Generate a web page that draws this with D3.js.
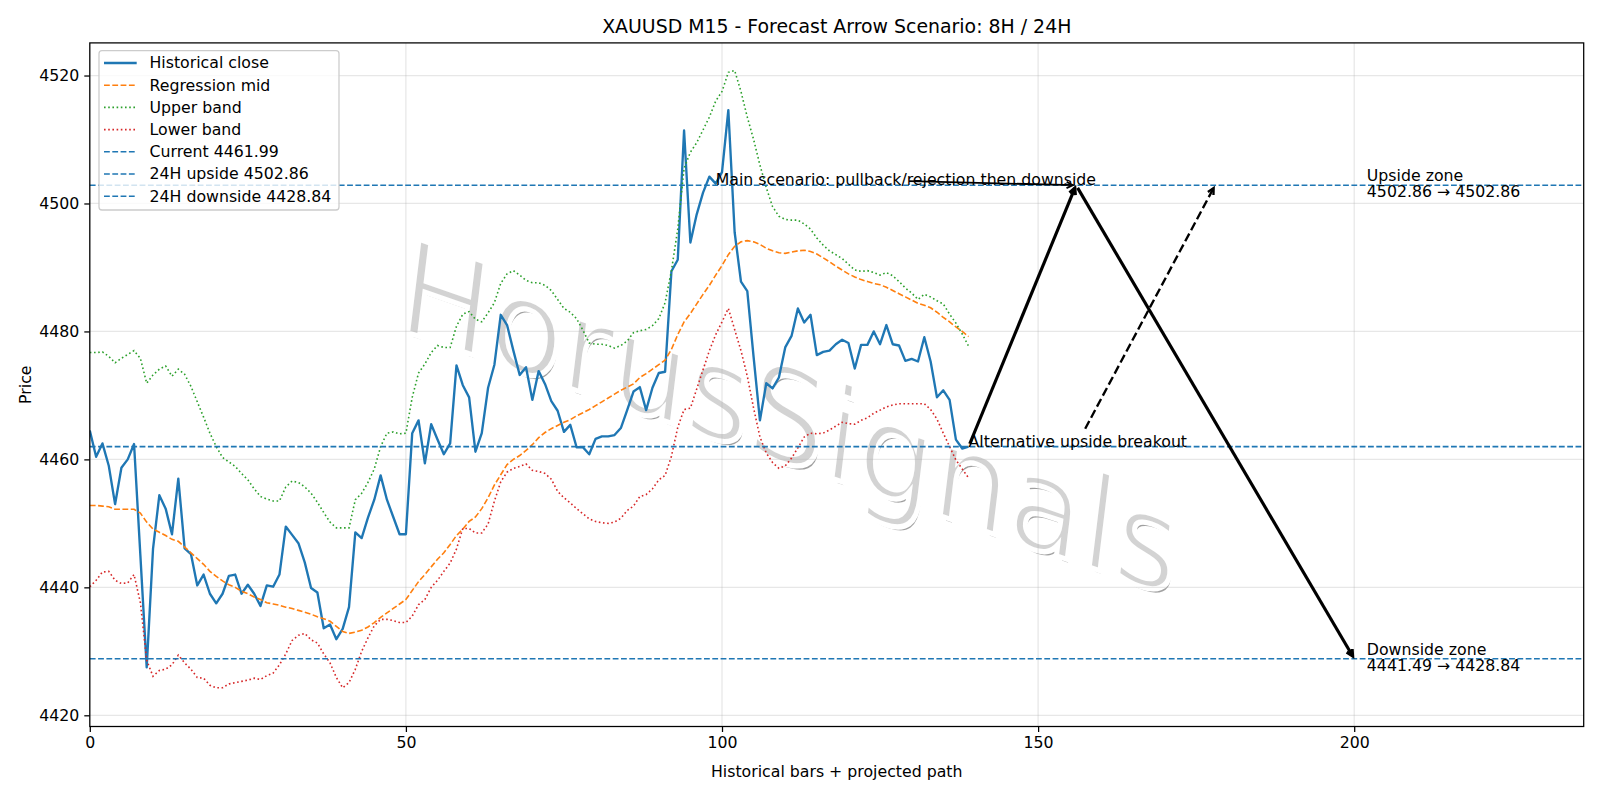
<!DOCTYPE html>
<html><head><meta charset="utf-8">
<script src="https://cdn.jsdelivr.net/npm/d3@7"></script>
<style>
body{margin:0;background:#fff}
svg{display:block}
text{font-family:"DejaVu Sans",Verdana,sans-serif}
</style>
</head><body>
<svg id="chart" width="1600" height="800"></svg>
<script>
// ---------------- DATA ----------------
const closeVals = [
4464.5,4460.4,4462.5,4459.0,4453.0,4458.7,4460.0,4462.4,4445.0,4427.5,
4446.0,4454.4,4452.3,4448.3,4457.0,4446.1,4445.2,4440.3,4442.0,4439.0,
4437.5,4439.0,4441.8,4442.0,4439.0,4440.4,4439.0,4437.1,4440.3,4440.1,
4442.0,4449.5,4448.2,4446.9,4443.9,4439.9,4439.2,4433.6,4434.2,4431.9,
4433.5,4436.9,4448.6,4447.7,4450.9,4453.7,4457.5,4453.7,4451.0,4448.3,
4448.3,4464.1,4466.1,4459.4,4465.5,4463.1,4460.8,4462.5,4474.7,4471.6,
4469.7,4461.2,4464.1,4471.2,4474.8,4482.6,4481.0,4477.0,4473.2,4474.4,
4469.3,4473.8,4471.8,4469.1,4467.6,4464.3,4465.4,4461.9,4461.9,4460.8,
4463.2,4463.6,4463.6,4463.8,4464.9,4467.7,4470.6,4471.3,4467.7,4471.2,
4473.5,4473.7,4489.4,4491.2,4511.4,4493.9,4498.3,4501.7,4504.2,4503.1,
4504.9,4514.6,4495.5,4487.8,4486.3,4476.0,4466.1,4471.9,4471.1,4472.8,
4477.5,4479.3,4483.6,4481.4,4482.6,4476.3,4476.8,4477.0,4478.0,4478.7,
4478.2,4474.2,4477.9,4477.9,4480.0,4478.0,4481.0,4478.0,4477.8,4475.4,
4475.7,4475.3,4479.1,4475.3,4469.7,4470.8,4469.3,4463.1,4461.7,4461.99];

const midVals = [
4452.8,4452.8,4452.7,4452.6,4452.2,4452.2,4452.2,4452.2,4451.6,4450.2,
4449.1,4448.6,4448.1,4447.5,4447.2,4446.3,4445.4,4444.5,4443.6,4442.5,
4441.7,4441.0,4440.4,4440.0,4439.4,4439.0,4438.5,4438.1,4437.6,4437.4,
4437.2,4436.9,4436.7,4436.4,4436.1,4435.8,4435.4,4435.1,4434.7,4433.9,
4433.1,4432.8,4433.0,4433.3,4433.8,4434.5,4435.3,4436.0,4436.7,4437.4,
4438.1,4439.5,4440.9,4442.0,4443.2,4444.4,4445.4,4446.7,4448.1,4449.1,
4450.3,4451.0,4452.3,4454.0,4456.0,4457.6,4459.2,4460.0,4460.6,4461.4,
4462.3,4463.4,4464.2,4464.8,4465.3,4465.8,4466.2,4466.8,4467.3,4467.8,
4468.4,4469.0,4469.6,4470.2,4470.8,4471.3,4471.8,4472.8,4473.4,4474.1,
4474.8,4475.5,4477.2,4479.5,4481.5,4482.8,4484.3,4485.8,4487.2,4488.8,
4490.3,4492.0,4493.3,4494.0,4494.2,4494.0,4493.6,4493.0,4492.6,4492.3,
4492.2,4492.4,4492.6,4492.7,4492.5,4492.1,4491.5,4490.9,4490.2,4489.6,
4489.0,4488.5,4488.1,4487.8,4487.5,4487.3,4486.9,4486.4,4485.9,4485.4,
4484.9,4484.4,4484.1,4483.7,4483.0,4482.2,4481.5,4480.7,4480.0,4479.2];

const upperVals = [
4476.7,4476.7,4476.8,4476.1,4475.1,4475.8,4476.4,4477.0,4475.8,4471.9,
4473.2,4474.1,4474.6,4473.0,4474.1,4473.3,4471.4,4469.0,4466.6,4464.1,
4462.0,4460.3,4459.6,4458.9,4457.8,4456.8,4455.4,4454.2,4453.8,4453.5,
4453.5,4455.7,4456.6,4456.4,4455.7,4454.7,4453.3,4451.7,4450.2,4449.3,
4449.3,4449.3,4453.7,4454.7,4456.4,4458.5,4462.0,4464.1,4464.3,4464.0,
4464.1,4469.7,4473.5,4474.9,4476.7,4477.8,4477.5,4477.5,4480.8,4482.7,
4483.1,4481.9,4481.5,4482.9,4484.5,4487.5,4489.0,4489.5,4488.8,4488.0,
4487.6,4487.6,4487.2,4486.4,4485.0,4483.6,4483.0,4482.0,4480.2,4478.2,
4478.0,4478.0,4477.8,4477.4,4477.8,4478.5,4479.8,4480.1,4480.3,4480.9,
4482.0,4484.5,4489.5,4496.0,4505.5,4508.0,4509.5,4511.5,4513.5,4516.0,
4517.5,4520.5,4520.8,4517.5,4513.5,4510.0,4506.0,4502.5,4499.5,4498.0,
4497.5,4497.4,4497.4,4496.8,4496.0,4494.6,4493.5,4492.6,4492.0,4491.4,
4490.5,4489.6,4489.4,4489.5,4489.2,4488.8,4489.2,4488.7,4487.8,4486.8,
4486.0,4485.0,4485.8,4485.4,4484.8,4484.3,4482.7,4481.3,4479.6,4477.7];

const lowerVals = [
4440.1,4441.1,4442.4,4442.5,4441.1,4440.6,4440.7,4442.0,4437.6,4428.6,
4426.1,4427.0,4427.2,4427.9,4429.4,4428.2,4427.2,4425.9,4425.8,4424.7,
4424.3,4424.3,4424.9,4425.1,4425.3,4425.5,4425.8,4425.6,4426.2,4426.6,
4427.9,4429.6,4431.7,4432.5,4432.8,4431.8,4431.3,4429.6,4428.2,4425.9,
4424.3,4425.1,4427.2,4430.0,4432.1,4434.0,4435.0,4435.0,4434.8,4434.5,
4434.5,4435.5,4437.3,4438.1,4440.0,4441.1,4442.5,4443.8,4446.0,4449.2,
4449.2,4448.5,4448.5,4449.9,4453.5,4456.5,4458.0,4458.6,4458.9,4459.3,
4458.3,4458.1,4457.8,4456.9,4455.0,4454.0,4453.2,4452.3,4451.5,4450.7,
4450.3,4450.1,4450.0,4450.2,4450.8,4452.0,4452.7,4454.2,4454.5,4455.4,
4456.8,4457.5,4460.5,4465.0,4467.8,4468.0,4471.0,4474.0,4477.0,4479.5,
4481.5,4483.6,4480.3,4477.0,4473.0,4468.0,4463.5,4461.0,4459.5,4458.6,
4459.0,4460.2,4461.8,4463.5,4464.1,4464.0,4464.1,4464.6,4465.2,4465.8,
4465.6,4465.5,4466.1,4466.5,4467.2,4467.7,4468.2,4468.5,4468.7,4468.7,
4468.7,4468.7,4468.7,4467.8,4466.3,4464.1,4462.0,4459.9,4458.5,4457.1];

const levelCurrent = 4461.99;
const levelUpside = 4502.86;
const levelDownside = 4428.84;
const downsideZoneStart = 4441.49;

// projected scenario path: x positions (bars) and prices
const mainPathX = [139, 156, 200];
const mainPathY = [4461.99, 4502.86, 4428.84];
const altTarget = [178, 4502.86];
const mainTextPos = [99, 4502.86];
const zoneLabelX = 202;

const xTicks = [0, 50, 100, 150, 200];
const yTicks = [4420, 4440, 4460, 4480, 4500, 4520];
const xDomain = [0, 236.3];
const yDomain = [4418.25, 4525.1];

const titleText = "XAUUSD M15 - Forecast Arrow Scenario: 8H / 24H";
const xLabel = "Historical bars + projected path";
const yLabel = "Price";
const watermarkText = "HorusSignals";
const legendLabels = ["Historical close","Regression mid","Upper band","Lower band",
  "Current " + levelCurrent.toFixed(2), "24H upside " + levelUpside.toFixed(2), "24H downside " + levelDownside.toFixed(2)];

// ---------------- LAYOUT ----------------
const C0="#1f77b4", C1="#ff7f0e", C2="#2ca02c", C3="#d62728";
const FS = 15.75;
const M = {l:89.8, r:16.3, t:42.9, b:73.5};
const W = 1600 - M.l - M.r, H = 800 - M.t - M.b;

const svg = d3.select("#chart");
const g = svg.append("g").attr("transform", `translate(${M.l},${M.t})`);
const x = d3.scaleLinear().domain(xDomain).range([0, W]);
const y = d3.scaleLinear().domain(yDomain).range([H, 0]);

svg.append("defs").append("clipPath").attr("id","plotclip")
  .append("rect").attr("width", W).attr("height", H);

// watermark: light lettering with a darker offset edge (thinned with a white stroke)
const wm = g.append("g").attr("transform", `translate(${790-M.l},${418-M.t}) rotate(19) skewX(12)`);
wm.append("text").attr("x",4).attr("y",5).attr("text-anchor","middle").attr("dominant-baseline","central")
  .attr("font-size",126).attr("fill","#a0a0a0").attr("stroke","#ffffff").attr("stroke-width",5)
  .text(watermarkText);
wm.append("text").attr("text-anchor","middle").attr("dominant-baseline","central")
  .attr("font-size",126).attr("fill","#d3d3d3").attr("stroke","#ffffff").attr("stroke-width",5)
  .text(watermarkText);

// grid
g.append("g").selectAll("line").data(xTicks).join("line")
  .attr("x1", d=>x(d)).attr("x2", d=>x(d)).attr("y1",0).attr("y2",H)
  .attr("stroke","#b0b0b0").attr("stroke-opacity",0.3).attr("stroke-width",1.26);
g.append("g").selectAll("line").data(yTicks).join("line")
  .attr("y1", d=>y(d)).attr("y2", d=>y(d)).attr("x1",0).attr("x2",W)
  .attr("stroke","#b0b0b0").attr("stroke-opacity",0.3).attr("stroke-width",1.26);

const plot = g.append("g").attr("clip-path","url(#plotclip)");
const line = d3.line().x((d,i)=>x(i)).y(d=>y(d));

plot.append("path").datum(closeVals).attr("d", line).attr("fill","none")
  .attr("stroke",C0).attr("stroke-width",2.36).attr("stroke-linejoin","round");
plot.append("path").datum(midVals).attr("d", line).attr("fill","none")
  .attr("stroke",C1).attr("stroke-width",1.6).attr("stroke-dasharray","5.8,2.5");
plot.append("path").datum(upperVals).attr("d", line).attr("fill","none")
  .attr("stroke",C2).attr("stroke-width",1.6).attr("stroke-dasharray","1.6,2.6");
plot.append("path").datum(lowerVals).attr("d", line).attr("fill","none")
  .attr("stroke",C3).attr("stroke-width",1.6).attr("stroke-dasharray","1.6,2.6");

[levelCurrent, levelUpside, levelDownside].forEach(v=>{
  plot.append("line").attr("x1",0).attr("x2",W).attr("y1",y(v)).attr("y2",y(v))
    .attr("stroke",C0).attr("stroke-width",1.6).attr("stroke-dasharray","5.8,2.5");
});

// arrows
function arrow(p1, p2, opt){
  let [x1,y1]=p1, [x2,y2]=p2;
  if(opt.clipRect){
    const r=opt.clipRect;
    const inside=(px,py)=>px>=r.x0&&px<=r.x1&&py>=r.y0&&py<=r.y1;
    if(!inside(x2,y2)){
      let lo=0, hi=1;
      for(let k=0;k<40;k++){const m=(lo+hi)/2; if(inside(x1+(x2-x1)*m, y1+(y2-y1)*m)) lo=m; else hi=m;}
      x1 = x1+(x2-x1)*hi; y1 = y1+(y2-y1)*hi;
    }
  }
  const L=Math.hypot(x2-x1,y2-y1), ux=(x2-x1)/L, uy=(y2-y1)/L;
  const sA=3.15, sB=3.15;
  x1+=ux*sA; y1+=uy*sA; x2-=ux*sB; y2-=uy*sB;
  const hl=6.3, hw=3.15;
  const bx=x2-ux*hl, by=y2-uy*hl, px=-uy, py=ux;
  g.append("line").attr("x1",x1).attr("y1",y1).attr("x2",x2).attr("y2",y2)
    .attr("stroke","#000").attr("stroke-width",opt.w).attr("stroke-dasharray",opt.dash||null);
  g.append("path").attr("d",`M${bx+px*hw},${by+py*hw}L${x2},${y2}L${bx-px*hw},${by-py*hw}`)
    .attr("fill","none").attr("stroke","#000").attr("stroke-width",opt.w).attr("stroke-linejoin","miter");
}

for(let i=0;i<mainPathX.length-1;i++){
  arrow([x(mainPathX[i]),y(mainPathY[i])],[x(mainPathX[i+1]),y(mainPathY[i+1])],{w:3.15});
}

const mt = g.append("text").attr("x",x(mainTextPos[0])).attr("y",y(mainTextPos[1]))
  .attr("font-size",FS).attr("fill","#000").text("Main scenario: pullback/rejection then downside");
const mb = mt.node().getBBox();
arrow([mb.x+mb.width/2, y(mainTextPos[1]) - 4.1],[x(mainPathX[1]), y(mainPathY[1])],{w:1.8,
  clipRect:{x0:mb.x-3.15,x1:mb.x+mb.width+3.15,y0:y(mainTextPos[1])-12-3.15,y1:y(mainTextPos[1])+3.7+3.15}});

const at = g.append("text").attr("x",x(mainPathX[0])).attr("y",y(levelCurrent))
  .attr("font-size",FS).attr("fill","#000").text("Alternative upside breakout");
const ab = at.node().getBBox();
const ay = y(levelCurrent);
arrow([ab.x+ab.width/2, ay-4.1],[x(altTarget[0]), y(altTarget[1])],{w:2.36, dash:"8.7,3.8",
  clipRect:{x0:ab.x-3.15,x1:ab.x+ab.width+3.15,y0:ay-12-3.15,y1:ay+3.7+3.15}});

function zoneLabel(v, l1, l2){
  const t = g.append("text").attr("x",x(zoneLabelX)).attr("font-size",FS).attr("fill","#000");
  t.append("tspan").attr("x",x(zoneLabelX)).attr("y",y(v)-4).text(l1);
  t.append("tspan").attr("x",x(zoneLabelX)).attr("y",y(v)+12).text(l2);
}
zoneLabel(levelUpside, "Upside zone", levelUpside.toFixed(2)+" \u2192 "+levelUpside.toFixed(2));
zoneLabel(levelDownside, "Downside zone", downsideZoneStart.toFixed(2)+" \u2192 "+levelDownside.toFixed(2));

// axes
const xa = g.append("g").attr("transform",`translate(0,${H})`)
  .call(d3.axisBottom(x).tickValues(xTicks).tickSize(5.5).tickPadding(5).tickFormat(d3.format("d")));
const ya = g.append("g").call(d3.axisLeft(y).tickValues(yTicks).tickSize(5.5).tickPadding(5).tickFormat(d3.format("d")));
[xa,ya].forEach(a=>{
  a.select(".domain").remove();
  a.selectAll(".tick line").attr("stroke","#000").attr("stroke-width",1.26);
  a.selectAll(".tick text").attr("font-size",FS).attr("fill","#000").attr("font-family","DejaVu Sans");
});
g.append("rect").attr("width",W).attr("height",H).attr("fill","none").attr("stroke","#000").attr("stroke-width",1.26);

svg.append("text").attr("x",M.l+W/2).attr("y",33).attr("text-anchor","middle").attr("font-size",18.9).text(titleText);
svg.append("text").attr("x",M.l+W/2).attr("y",777).attr("text-anchor","middle").attr("font-size",FS).text(xLabel);
svg.append("text").attr("transform",`translate(31,${M.t+H/2}) rotate(-90)`).attr("text-anchor","middle").attr("font-size",FS).text(yLabel);

// legend
const lg = svg.append("g");
lg.append("rect").attr("x",99).attr("y",50.7).attr("width",240).attr("height",159.3).attr("rx",3)
  .attr("fill","#fff").attr("fill-opacity",0.8).attr("stroke","#cccccc").attr("stroke-width",1.26);
const legendStyles = [
  {c:C0,w:2.36,d:null},{c:C1,w:1.6,d:"5.8,2.5"},{c:C2,w:1.6,d:"1.6,2.6"},{c:C3,w:1.6,d:"1.6,2.6"},
  {c:C0,w:1.6,d:"5.8,2.5"},{c:C0,w:1.6,d:"5.8,2.5"},{c:C0,w:1.6,d:"5.8,2.5"}];
legendLabels.forEach((lab,i)=>{
  const by = 68.3 + i*22.2;
  const s = legendStyles[i];
  lg.append("line").attr("x1",104).attr("x2",136.7).attr("y1",by-5.3).attr("y2",by-5.3)
    .attr("stroke",s.c).attr("stroke-width",s.w).attr("stroke-dasharray",s.d);
  lg.append("text").attr("x",149.5).attr("y",by).attr("font-size",FS).text(lab);
});
</script>
</body></html>
